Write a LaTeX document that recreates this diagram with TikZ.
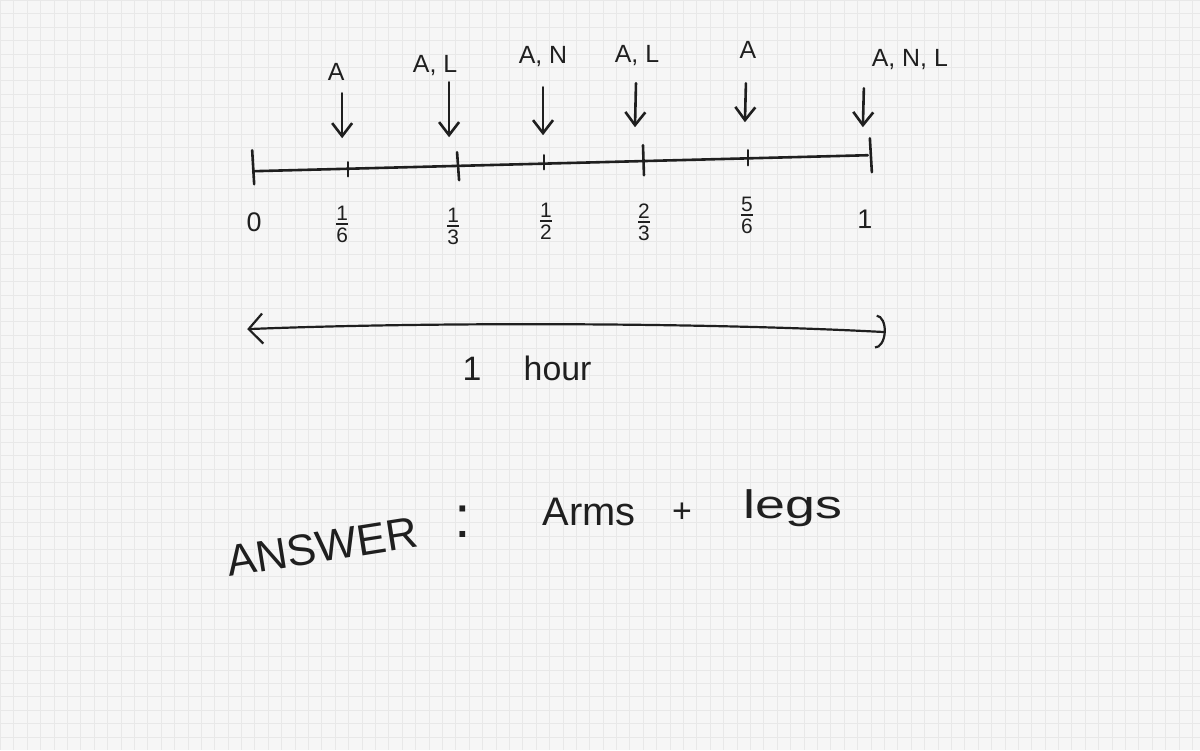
\documentclass[tikz,border=0pt]{standalone}
\usepackage{fontspec}
\setmainfont{Liberation Sans}
\usetikzlibrary{arrows.meta}
\begin{document}
\begin{tikzpicture}[x=1bp,y=-1bp,
  pen/.style={line width=2.6bp, line cap=round, line join=round, black!88},
  darr/.style={pen, -{Straight Barb[length=13bp,width=20bp]}},
  lab/.style={font=\fontsize{25}{28}\selectfont, inner sep=0pt, black!88},
  frac/.style={font=\fontsize{21}{24}\selectfont, inner sep=0pt, black!88},
  big/.style={inner sep=0pt, black!88}]
% paper
\fill[gray!7] (0,0) rectangle (1200,750);
\draw[gray!18, line width=0.6bp, step=13.4bp] (0,0) grid (1200,750);
\useasboundingbox (0,0) rectangle (1200,750);

% main time line
\coordinate (L0) at (253,171);
\coordinate (L1) at (868,155);
\draw[pen] (L0) -- (L1);
\draw[pen] (252,150) -- (254,184);
\draw[pen] (870,138) -- (872,172);
\draw[pen] (348,162) -- (348,176);
\draw[pen] (457,152) -- (459,180);
\draw[pen] (544,155) -- (544,169);
\draw[pen] (643,145) -- (644,175);
\draw[pen] (748,150) -- (748,165);

% labels above
\node[lab] (a1) at (336,72) {A};
\node[lab] (a2) at (435,65) {A, L};
\node[lab] (a3) at (543,56) {A, N};
\node[lab] (a4) at (637,55) {A, L};
\node[lab] (a5) at (748,50) {A};
\node[lab] (a6) at (910,59) {A, N, L};

% down arrows
\coordinate (s1) at (342,93);  \coordinate (e1) at (342,138);
\coordinate (s2) at (449,82);  \coordinate (e2) at (449,137);
\coordinate (s3) at (543,87);  \coordinate (e3) at (543,135);
\coordinate (s4) at (636,83);  \coordinate (e4) at (635,127);
\coordinate (s5) at (746,83);  \coordinate (e5) at (745,122);
\coordinate (s6) at (864,88);  \coordinate (e6) at (863,127);
\draw[darr] (s1) -- (e1);
\draw[darr] (s2) -- (e2);
\draw[darr] (s3) -- (e3);
\draw[darr] (s4) -- (e4);
\draw[darr] (s5) -- (e5);
\draw[darr] (s6) -- (e6);

% values below
\node[lab, font=\fontsize{27}{30}\selectfont] (f0) at (254,222) {0};
\node[frac] (f1) at (342,224) {$\hbox{1}\above 2.4bp\hbox{6}$};
\node[frac] (f2) at (453,226) {$\hbox{1}\above 2.4bp\hbox{3}$};
\node[frac] (f3) at (546,221) {$\hbox{1}\above 2.4bp\hbox{2}$};
\node[frac] (f4) at (644,222) {$\hbox{2}\above 2.4bp\hbox{3}$};
\node[frac] (f5) at (747,215) {$\hbox{5}\above 2.4bp\hbox{6}$};
\node[lab, font=\fontsize{27}{30}\selectfont] (f6) at (865,219) {1};

% one-hour span
\coordinate (h0) at (247,329);
\coordinate (h1) at (886,332);
\draw[pen, line width=2.2bp, {Straight Barb[length=14bp,width=30bp]}-{Arc Barb[length=10bp,width=34bp]}]
  (h0) .. controls (420,322) and (700,322) .. (h1);
\node[big, font=\fontsize{34}{38}\selectfont] (hr) at (527,368) {1\hspace{1.25em}hour};

% answer
\node[big, font=\fontsize{44}{50}\selectfont, rotate=9] (ans) at (322,547) {ANSWER};
\node[big, font=\fontsize{60}{64}\selectfont] (col) at (463,522) {:};
\node[big, font=\fontsize{40}{44}\selectfont] (arms) at (589,512) {Arms};
\node[big, font=\fontsize{34}{38}\selectfont] (plus) at (682,513) {+};
\node[big, font=\fontsize{40}{44}\selectfont] (legs) at (793,508) {\scalebox{1.35}[1]{legs}};
\end{tikzpicture}
\end{document}
